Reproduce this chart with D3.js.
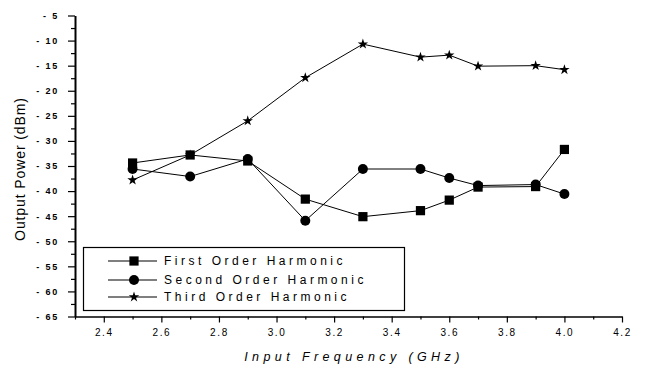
<!DOCTYPE html>
<html>
<head>
<meta charset="utf-8">
<script src="https://d3js.org/d3.v7.min.js"></script>
<style>
  body { margin: 0; background: #fff; }
  text { font-family: "Liberation Sans", Arial, sans-serif; fill: #000; }
</style>
</head>
<body>
<script>
// frequency (GHz) of each measurement
var freqs = [2.5, 2.7, 2.9, 3.1, 3.3, 3.5, 3.6, 3.7, 3.9, 4.0];
// output power (dBm)
var firstOrder  = [-34.4, -32.8, -34.0, -41.6, -45.1, -43.9, -41.8, -39.2, -39.1, -31.7];
var secondOrder = [-35.6, -37.1, -33.6, -45.9, -35.6, -35.6, -37.4, -38.9, -38.7, -40.6];
var thirdOrder  = [-37.8, -32.8, -26.0, -17.4, -10.7, -13.3, -12.9, -15.1, -15.0, -15.8];
var seriesNames = ["First Order Harmonic", "Second Order Harmonic", "Third Order Harmonic"];
var xTicks = [2.4, 2.6, 2.8, 3.0, 3.2, 3.4, 3.6, 3.8, 4.0, 4.2];
var yTicks = [-5, -10, -15, -20, -25, -30, -35, -40, -45, -50, -55, -60, -65];

var width = 646, height = 365;
var svg = d3.select("body").append("svg")
    .attr("width", width)
    .attr("height", height);

var x = d3.scaleLinear().domain([2.3, 4.2]).range([75, 622]);
var y = d3.scaleLinear().domain([-65, -5]).range([316.5, 15.5]);

// minor ticks
var xMinor = d3.range(2.3, 4.2001, 0.1).map(d => +d.toFixed(1)).filter(d => xTicks.indexOf(d) < 0);
var yMinor = d3.range(-62.5, -5, 5);

// x axis
var gx = svg.append("g").attr("transform", "translate(0," + y(-65) + ")");
gx.append("g")
    .call(d3.axisBottom(x).tickValues(xMinor).tickSize(3).tickFormat(""))
    .call(g => g.select(".domain").remove());
gx.append("g")
    .call(d3.axisBottom(x).tickValues(xTicks).tickSize(6).tickSizeOuter(0)
        .tickFormat(d3.format(".1f")))
    .call(g => g.select(".domain").attr("stroke-width", 1.6))
    .call(g => g.selectAll("text")
        .attr("font-size", 10)
        .attr("letter-spacing", "1.6px")
        .attr("dy", "1.05em"));

// y axis
var gy = svg.append("g").attr("transform", "translate(" + x(2.3) + ",0)");
gy.append("g")
    .call(d3.axisLeft(y).tickValues(yMinor).tickSize(4).tickFormat(""))
    .call(g => g.select(".domain").remove());
gy.append("g")
    .call(d3.axisLeft(y).tickValues(yTicks).tickSize(7).tickSizeOuter(0)
        .tickFormat(d => d.toString().replace("-", "- ")))
    .call(g => g.select(".domain").attr("stroke-width", 2))
    .call(g => g.selectAll("text")
        .attr("font-size", 9)
        .attr("font-weight", "bold")
        .attr("letter-spacing", "1.8px")
        .attr("x", -16));

svg.selectAll(".tick line").attr("stroke", "#000").attr("stroke-width", 1.2);

// axis titles
svg.append("text")
    .attr("x", 354).attr("y", 361)
    .attr("text-anchor", "middle")
    .attr("font-size", 12.5)
    .attr("font-style", "italic")
    .attr("letter-spacing", "4.4px")
    .text("Input Frequency (GHz)");

svg.append("text")
    .attr("transform", "translate(25,169) rotate(-90)")
    .attr("text-anchor", "middle")
    .attr("font-size", 14)
    .attr("letter-spacing", "0.9px")
    .text("Output Power (dBm)");

// series
var series = [
  {name: seriesNames[0], values: firstOrder,  symbol: d3.symbolSquare, size: 85},
  {name: seriesNames[1], values: secondOrder, symbol: d3.symbolCircle, size: 78},
  {name: seriesNames[2], values: thirdOrder,  symbol: d3.symbolStar,   size: 34}
];

var line = d3.line()
    .x((d, i) => x(freqs[i]))
    .y(d => y(d));

series.forEach(s => {
  svg.append("path")
      .attr("d", line(s.values))
      .attr("fill", "none")
      .attr("stroke", "#000")
      .attr("stroke-width", 1);
  svg.selectAll(null)
      .data(s.values).enter()
      .append("path")
      .attr("transform", (d, i) => "translate(" + x(freqs[i]) + "," + y(d) + ")")
      .attr("d", d3.symbol().type(s.symbol).size(s.size))
      .attr("fill", "#000");
});

// legend
var legend = svg.append("g");
legend.append("rect")
    .attr("x", 83.5).attr("y", 247.5)
    .attr("width", 321).attr("height", 63)
    .attr("fill", "#fff")
    .attr("stroke", "#000")
    .attr("stroke-width", 1.2);

var rowY = [261, 280, 297];
series.forEach((s, i) => {
  var row = legend.append("g").attr("transform", "translate(0," + rowY[i] + ")");
  row.append("line")
      .attr("x1", 108).attr("x2", 157)
      .attr("stroke", "#000").attr("stroke-width", 1.2);
  row.append("path")
      .attr("transform", "translate(134,0)")
      .attr("d", d3.symbol().type(s.symbol).size(s.size))
      .attr("fill", "#000");
  row.append("text")
      .attr("x", 164).attr("dy", "0.36em")
      .attr("font-size", 12)
      .attr("letter-spacing", "3.5px")
      .text(s.name);
});
</script>
</body>
</html>
